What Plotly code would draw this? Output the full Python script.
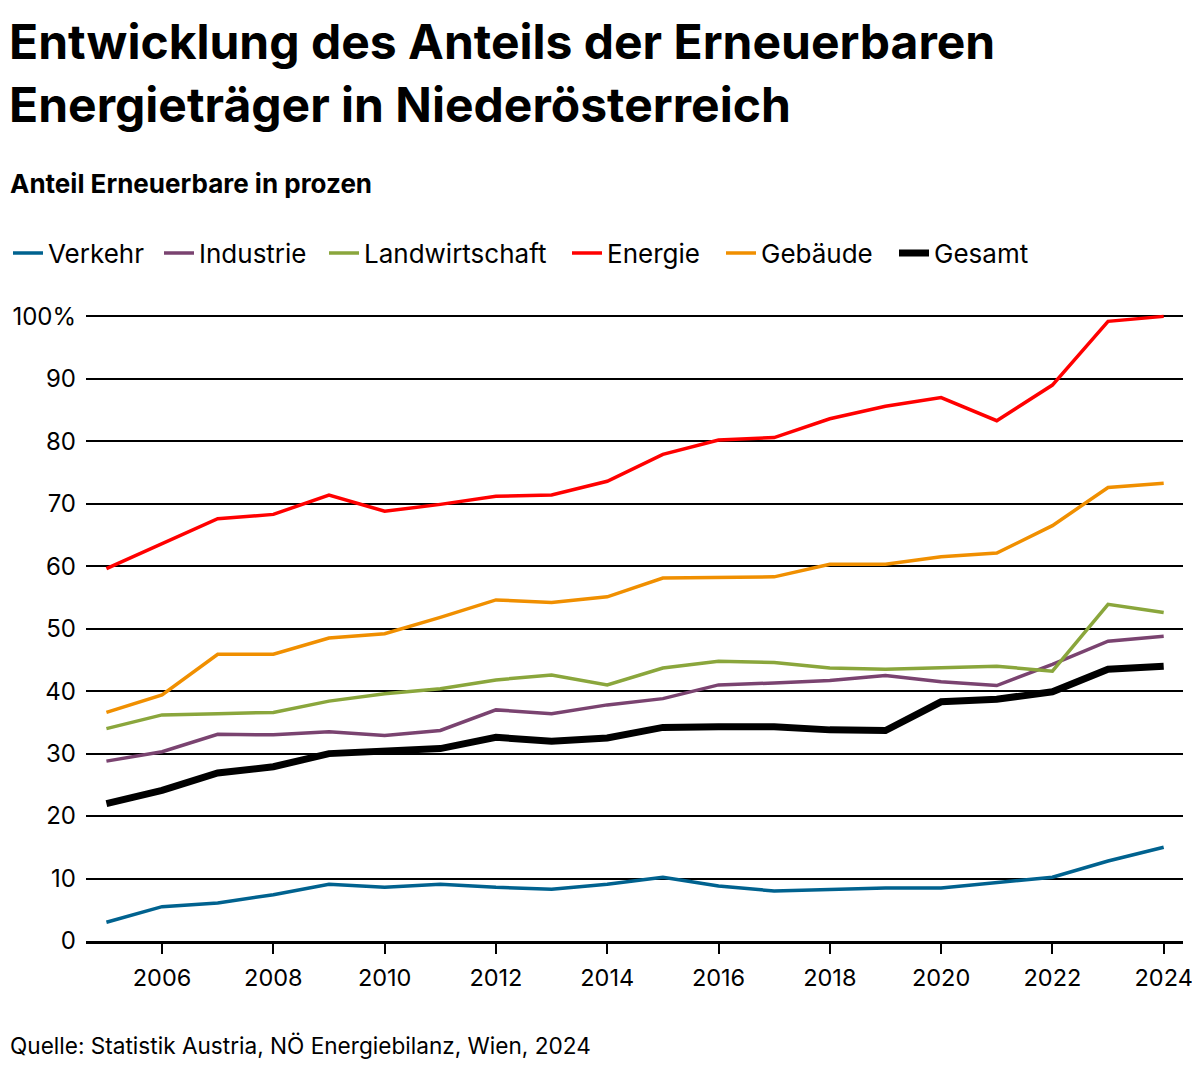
import plotly.graph_objects as go

years = list(range(2005, 2025))

verkehr = [3.0, 5.5, 6.1, 7.4, 9.1, 8.6, 9.1, 8.6, 8.3, 9.1, 10.2, 8.8, 8.0, 8.3, 8.5, 8.5, 9.3, 10.2, 12.8, 15.0]
industrie = [28.8, 30.3, 33.1, 33.0, 33.5, 32.9, 33.7, 37.0, 36.4, 37.8, 38.8, 41.0, 41.3, 41.7, 42.5, 41.5, 40.9, 44.3, 48.0, 48.8]
landwirtschaft = [34.0, 36.2, 36.4, 36.6, 38.4, 39.6, 40.4, 41.8, 42.6, 41.0, 43.7, 44.8, 44.6, 43.7, 43.5, 43.7, 44.0, 43.2, 53.9, 52.6]
energie = [59.6, 63.6, 67.6, 68.3, 71.4, 68.8, 69.9, 71.2, 71.4, 73.6, 77.9, 80.2, 80.6, 83.6, 85.6, 87.0, 83.3, 89.0, 99.2, 100.0]
gebaeude = [36.6, 39.4, 45.9, 45.9, 48.5, 49.2, 51.8, 54.6, 54.2, 55.1, 58.1, 58.2, 58.3, 60.3, 60.3, 61.5, 62.1, 66.5, 72.6, 73.3]
gesamt = [22.0, 24.1, 26.9, 27.9, 30.0, 30.4, 30.8, 32.6, 32.0, 32.5, 34.2, 34.3, 34.3, 33.8, 33.7, 38.3, 38.7, 39.9, 43.5, 44.0]

series_names = ["Verkehr", "Industrie", "Landwirtschaft", "Energie", "Gebäude", "Gesamt"]
series_values = [verkehr, industrie, landwirtschaft, energie, gebaeude, gesamt]
series_colors = ["#00628f", "#7a4370", "#8aa63c", "#ff0000", "#f08f00", "#000000"]
series_widths = [3.5, 3.5, 3.5, 3.5, 3.5, 7]
legend_left_px = [10, 164, 329, 572, 726, 899]

y_tickvals = [0, 10, 20, 30, 40, 50, 60, 70, 80, 90, 100]
y_ticktext = ["0", "10", "20", "30", "40", "50", "60", "70", "80", "90", "100%"]
x_tickvals = [2006, 2008, 2010, 2012, 2014, 2016, 2018, 2020, 2022, 2024]

title_line1 = "Entwicklung des Anteils der Erneuerbaren"
title_line2 = "Energieträger in Niederösterreich"
subtitle = "Anteil Erneuerbare in prozen"
source = "Quelle: Statistik Austria, NÖ Energiebilanz, Wien, 2024"

FONT = "Inter"

# the page places the figure 8px from the top-left corner; all targets below are
# page pixels, so the figure is laid out shifted back by that offset
OFF = 8
W, H = 1200 - OFF, 1074 - OFF
plot_left, plot_right, plot_top, plot_bottom = 86, 1183, 306.6, 941
ml = plot_left - OFF
mr = W - (plot_right - OFF)
mt = plot_top - OFF
mb = H - (plot_bottom - OFF)
pw = W - ml - mr
ph = H - mt - mb


def px_x(px):
    return (px - OFF - ml) / pw


def px_y(py):
    return (H - mb - (py - OFF)) / ph


fig = go.Figure()
legend_layouts = {}
for i, (name, vals, col, w, lx) in enumerate(zip(series_names, series_values, series_colors,
                                                 series_widths, legend_left_px)):
    lname = "legend" if i == 0 else "legend%d" % (i + 1)
    fig.add_trace(go.Scatter(
        x=years, y=vals, name=name, mode="lines",
        line=dict(color=col, width=w), legend=lname,
    ))
    legend_layouts[lname] = dict(
        orientation="h", xref="container", yref="container",
        x=(lx - OFF - 5) / W, y=1 - (253 - OFF) / H, xanchor="left", yanchor="middle",
        font=dict(size=26, family=FONT, color="#000"), bgcolor="rgba(0,0,0,0)",
        borderwidth=0, itemwidth=30,
    )

fig.update_layout(
    width=W, height=H,
    margin=dict(l=ml, r=mr, t=mt, b=mb, pad=0, autoexpand=False),
    paper_bgcolor="white", plot_bgcolor="white",
    font=dict(family=FONT, color="#000000", size=23),
    showlegend=True,
    xaxis=dict(
        range=[2004.633, 2024.347], tickvals=x_tickvals, ticks="outside", ticklen=10,
        tickwidth=2, tickcolor="#000", showline=True, linecolor="#000", linewidth=2.5,
        showgrid=False, zeroline=False, tickfont=dict(size=23.5, family=FONT, color="#000"),
        ticklabelstandoff=4, automargin=False,
    ),
    yaxis=dict(
        range=[0, 101.5], tickvals=y_tickvals, ticktext=y_ticktext, showgrid=True,
        gridcolor="#000", gridwidth=2, zeroline=False, showline=False, ticks="",
        tickfont=dict(size=24, family=FONT, color="#000"), ticklabelstandoff=9,
        automargin=False,
    ),
    annotations=[
        dict(text="<b>" + title_line1 + "</b>", x=px_x(7), y=px_y(41), xref="paper", yref="paper",
             xanchor="left", yanchor="middle", showarrow=False, font=dict(size=48, family=FONT, color="#000")),
        dict(text="<b>" + title_line2 + "</b>", x=px_x(7), y=px_y(104), xref="paper", yref="paper",
             xanchor="left", yanchor="middle", showarrow=False, font=dict(size=48, family=FONT, color="#000")),
        dict(text="<b>" + subtitle + "</b>", x=px_x(8), y=px_y(183), xref="paper", yref="paper",
             xanchor="left", yanchor="middle", showarrow=False, font=dict(size=26, family=FONT, color="#000")),
        dict(text=source, x=px_x(8), y=px_y(1046), xref="paper", yref="paper",
             xanchor="left", yanchor="middle", showarrow=False, font=dict(size=22.6, family=FONT, color="#000")),
    ],
)
fig.update_layout(**legend_layouts)

fig.write_html("out.html")
